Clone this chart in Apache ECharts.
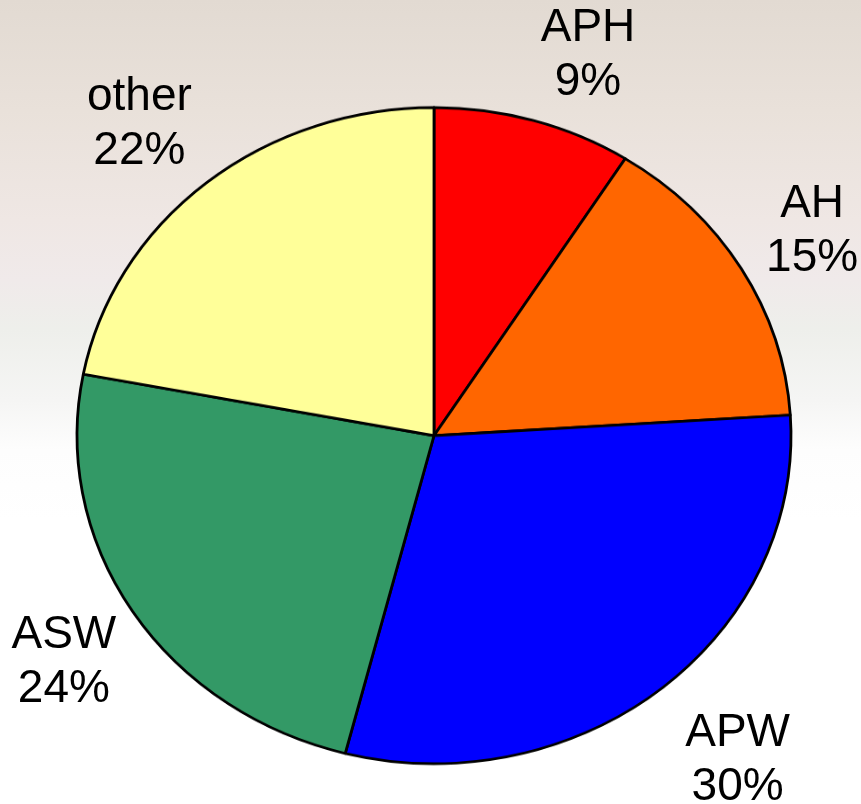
<!DOCTYPE html>
<html>
<head>
<meta charset="utf-8">
<script src="https://cdn.jsdelivr.net/npm/echarts@6/dist/echarts.min.js"></script>
<style>
  html, body { margin: 0; padding: 0; }
  body {
    width: 861px; height: 804px; overflow: hidden; position: relative;
    background: linear-gradient(to bottom, #e2dad2 0px, #e9e1da 110px, #efe7e4 220px, #f0eaea 280px, #eeefeb 330px, #f5f5f4 400px, #fdfdfd 450px, #ffffff 520px, #ffffff 804px);
  }
  /* pie is drawn a bit flatter than round, like the original slide */
  #pieWrap {
    position: absolute; left: 0; top: 0; width: 861px; height: 875px;
    transform: scaleY(0.919); transform-origin: 0 0;
  }
  #labelWrap { position: absolute; left: 0; top: 0; width: 861px; height: 804px; }
</style>
</head>
<body>
<div id="pieWrap"></div>
<div id="labelWrap"></div>
<script>
// 数据
const categories = ['APH', 'AH', 'APW', 'ASW', 'other']
const shares = [9, 15, 30, 24, 22]
const sliceColors = ['#ff0000', '#ff6600', '#0000ff', '#339966', '#ffff99']

const pieData = categories.map((name, i) => ({
  name: name,
  value: shares[i],
  itemStyle: { color: sliceColors[i] }
}))

// 饼图本体
const pieChart = echarts.init(document.getElementById('pieWrap'), null, { renderer: 'canvas' })
pieChart.setOption({
  animation: false,
  series: [
    {
      type: 'pie',
      center: [434, 474],
      radius: 357,
      startAngle: 90,
      clockwise: true,
      silent: true,
      label: { show: false },
      labelLine: { show: false },
      itemStyle: { borderColor: '#000', borderWidth: 2.8 },
      data: pieData
    }
  ]
})

// 标签层（不拉伸，保持文字比例）
const labelNudge = [[37, 27], [15, 12], [35, -1], [-12, 1], [-24, 15]]
const labelChart = echarts.init(document.getElementById('labelWrap'), null, { renderer: 'canvas' })
labelChart.setOption({
  animation: false,
  series: [
    {
      type: 'pie',
      center: [433, 435],
      radius: [400, 440],
      startAngle: 90,
      clockwise: true,
      silent: true,
      itemStyle: { color: 'rgba(0,0,0,0)', borderWidth: 0 },
      labelLine: { show: false },
      label: {
        show: true,
        position: 'inside',
        color: '#000',
        fontSize: 46,
        lineHeight: 54,
        fontFamily: '"Liberation Sans", Arial, sans-serif',
        align: 'center',
        formatter: p => p.name + '\n' + p.value + '%'
      },
      data: pieData.map((d, i) => ({
        name: d.name,
        value: d.value,
        label: { offset: labelNudge[i] }
      }))
    }
  ]
})
</script>
</body>
</html>
